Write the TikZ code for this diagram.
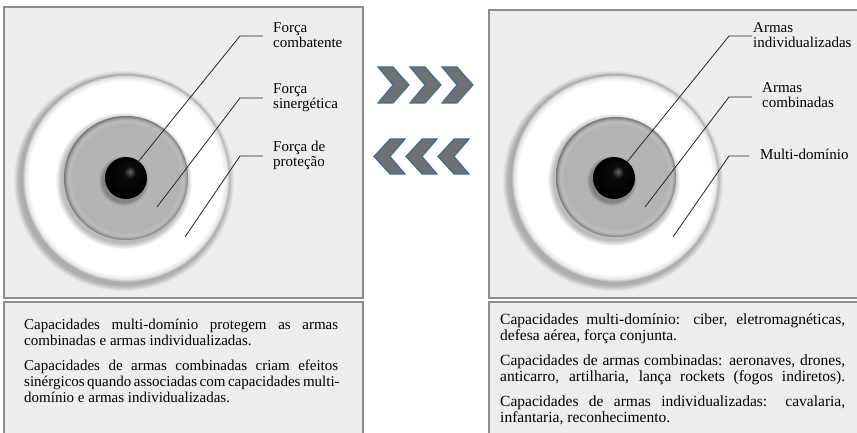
\documentclass[tikz,border=0pt]{standalone}
\usepackage{fontspec}
\setmainfont{Liberation Serif}
\usetikzlibrary{calc}
\definecolor{panelfill}{HTML}{EDEDED}
\definecolor{panelline}{HTML}{8C8C8C}
\definecolor{chevblue}{HTML}{3C67AA}
\definecolor{chevgray}{HTML}{707070}
\pgfdeclareradialshading{whitedisc}{\pgfpoint{0bp}{0bp}}{color(0bp)=(white); color(23.2bp)=(white); color(24.3bp)=(black!10); color(25bp)=(black!34); color(50bp)=(black!34)}
\pgfdeclareradialshading{graydisc}{\pgfpoint{0bp}{0bp}}{color(0bp)=(black!29); color(21.5bp)=(black!30); color(23.2bp)=(black!26); color(24.3bp)=(black!38); color(25bp)=(black!55); color(50bp)=(black!55)}
\pgfdeclareradialshading{blackdisc}{\pgfpoint{5bp}{8bp}}{color(0bp)=(black!60); color(7bp)=(black!96); color(25bp)=(black); color(50bp)=(black)}
\newcommand\discshadow[4]{%
  \foreach \k in {1,...,8}{\fill[black,opacity=0.035] ({#1-2},{#2+3}) circle[radius={#3pt+#4pt*\k/8}];}}
\tikzset{
  panel/.style={fill=panelfill, draw=panelline, line width=1.5pt},
  ringdisc/.style={circle, inner sep=0pt, shade, shading=whitedisc},
  midisc/.style={circle, inner sep=0pt, shade, shading=graydisc},
  coredisc/.style={circle, inner sep=0pt, shade, shading=blackdisc},
  leader/.style={draw=black!85, line width=0.8pt},
  lab/.style={inner sep=0pt, align=left, font=\fontsize{15}{15}\selectfont},
  body/.style={inner sep=0pt},
  chev/.style={fill=chevgray, draw=chevblue, line width=1.1pt, line join=miter}
}
\begin{document}
\begin{tikzpicture}[x=1pt,y=-1pt]
\useasboundingbox[fill=white] (0,0) rectangle (857,433);
% panels
\draw[panel] (4,7) rectangle (363,298);
\draw[panel] (4,302) rectangle (363,445);
\draw[panel] (489,10) rectangle (870,298);
\draw[panel] (489,302) rectangle (870,445);
% left target
\discshadow{126}{178}{104}{6}
\node[ringdisc, minimum size=208pt] (ringL) at (126,178) {};
\discshadow{126}{178}{62}{6}
\node[midisc, minimum size=124pt] (midL) at (126,178) {};
\discshadow{126}{178}{21}{4}
\node[coredisc, minimum size=42pt] (coreL) at (126,178) {};
% right target
\discshadow{615}{178}{104}{6}
\node[ringdisc, minimum size=208pt] (ringR) at (615,178) {};
\discshadow{616}{177}{60}{6}
\node[midisc, minimum size=120pt] (midR) at (616,177) {};
\discshadow{614}{178}{21}{4}
\node[coredisc, minimum size=42pt] (coreR) at (614,178) {};
% labels left (anchor = baseline of last line)
\node[lab, anchor=base west] (labL1) at (273,48) {Força\\combatente};
\node[lab, anchor=base west] (labL2) at (273,109) {Força\\sinergética};
\node[lab, anchor=base west] (labL3) at (273,167) {Força de\\proteção};
% labels right
\node[lab, anchor=base west] (labR1) at (753,48) {Armas\\individualizadas};
\node[lab, anchor=base west] (labR2) at (762,108) {Armas\\combinadas};
\node[lab, anchor=base west] (labR3) at (760,160) {Multi-domínio};
% leader coordinates
\coordinate (eL1) at (138,162); \coordinate (kL1) at (240,36);
\coordinate (eL2) at (157,207); \coordinate (kL2) at (240,98);
\coordinate (eL3) at (185,237); \coordinate (kL3) at (240,156);
\coordinate (eR1) at (627,162); \coordinate (kR1) at (729,36);
\coordinate (eR2) at (645,207); \coordinate (kR2) at (729,97);
\coordinate (eR3) at (673,237); \coordinate (kR3) at (729,156);
\draw[leader, shorten >=10pt] (eL1) -- (kL1) -- (kL1 -| labL1.west);
\draw[leader, shorten >=10pt] (eL2) -- (kL2) -- (kL2 -| labL2.west);
\draw[leader, shorten >=10pt] (eL3) -- (kL3) -- (kL3 -| labL3.west);
\draw[leader, shorten >=1pt] (eR1) -- (kR1) -- (kR1 -| labR1.west);
\draw[leader, shorten >=10pt] (eR2) -- (kR2) -- (kR2 -| labR2.west);
\draw[leader, shorten >=11pt] (eR3) -- (kR3) -- (kR3 -| labR3.west);
% chevrons
\foreach \x in {378,410,442}{
  \draw[chev] (\x,67) -- ++(15,0) -- ++(16,18) -- ++(-16,18) -- ++(-15,0) -- ++(15,-18) -- cycle;}
\foreach \x in {405,437,469}{
  \draw[chev] (\x,139) -- ++(-15,0) -- ++(-16,17.5) -- ++(16,17.5) -- ++(15,0) -- ++(-15,-17.5) -- cycle;}
% body texts
\node[body, anchor=base west] (txtL) at (24,329) {\parbox[t]{314pt}{\fontsize{15}{16}\selectfont\setlength\parindent{0pt}%
\makebox[314pt][s]{Capacidades multi-domínio protegem as armas}\\
combinadas e armas individualizadas.\\[9pt]
\makebox[314pt][s]{Capacidades de armas combinadas criam efeitos}\\
\makebox[314pt][s]{sinérgicos quando associadas com capacidades multi-}\\
domínio e armas individualizadas.}};
\node[body, anchor=base west] (txtR) at (500,324) {\parbox[t]{345pt}{\fontsize{15.5}{16}\selectfont\setlength\parindent{0pt}%
\makebox[345pt][s]{Capacidades multi-domínio: ciber, eletromagnéticas,}\\
defesa aérea, força conjunta.\\[9pt]
\makebox[345pt][s]{Capacidades de armas combinadas: aeronaves, drones,}\\
\makebox[345pt][s]{anticarro, artilharia, lança rockets (fogos indiretos).}\\[9pt]
\makebox[345pt][s]{Capacidades de armas individualizadas: cavalaria,}\\
infantaria, reconhecimento.}};
\end{tikzpicture}
\end{document}
